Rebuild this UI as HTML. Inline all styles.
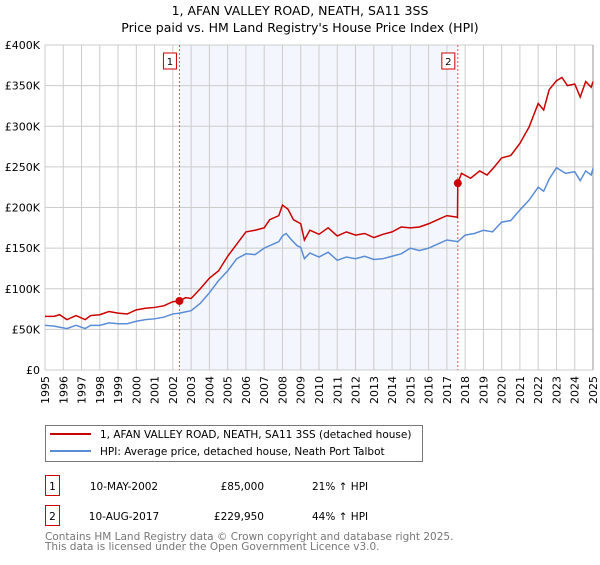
<!DOCTYPE html>
<html><head><meta charset="utf-8"><style>
body{margin:0;background:#fff;font-family:"Liberation Sans","DejaVu Sans",sans-serif}
svg text{font-family:"DejaVu Sans","Liberation Sans",sans-serif}
</style></head><body>
<svg width="600" height="560" viewBox="0 0 600 560">
<text x="300" y="15" text-anchor="middle" font-size="12.5">1, AFAN VALLEY ROAD, NEATH, SA11 3SS</text>
<text x="300" y="32" text-anchor="middle" font-size="12.5">Price paid vs. HM Land Registry's House Price Index (HPI)</text>
<g id="grid"></g><g id="series"></g><g id="axes"></g>
<rect x="45.5" y="425.5" width="377" height="36" fill="#fff" stroke="#777"/>
<line x1="50" y1="434" x2="91" y2="434" stroke="#cc0000" stroke-width="2"/>
<text x="100" y="438" font-size="10.5">1, AFAN VALLEY ROAD, NEATH, SA11 3SS (detached house)</text>
<line x1="50" y1="451" x2="91" y2="451" stroke="#5b8dd6" stroke-width="2"/>
<text x="100" y="455" font-size="10.5">HPI: Average price, detached house, Neath Port Talbot</text>
<g>
<rect x="45.5" y="475.5" width="14" height="20" fill="#fff" stroke="#cc0000"/><text x="52.5" y="490" font-size="10.5" text-anchor="middle">1</text>
<text x="124" y="490" font-size="10.5" text-anchor="middle">10-MAY-2002</text>
<text x="264" y="490" font-size="10.5" text-anchor="end">£85,000</text>
<text x="312" y="490" font-size="10.5">21% ↑ HPI</text></g>
<g>
<rect x="45.5" y="505.5" width="14" height="20" fill="#fff" stroke="#cc0000"/><text x="52.5" y="520" font-size="10.5" text-anchor="middle">2</text>
<text x="124" y="520" font-size="10.5" text-anchor="middle">10-AUG-2017</text>
<text x="264" y="520" font-size="10.5" text-anchor="end">£229,950</text>
<text x="312" y="520" font-size="10.5">44% ↑ HPI</text></g>
<text x="45" y="540" font-size="10.5" fill="#777">Contains HM Land Registry data © Crown copyright and database right 2025.</text>
<text x="45" y="550" font-size="10.5" fill="#777">This data is licensed under the Open Government Licence v3.0.</text>
</svg>
<script>
const hpiYears=[1995,1995.5,1996.2,1996.7,1997.2,1997.5,1998,1998.5,1999,1999.5,2000,2000.5,2001,2001.5,2002,2002.36,2003,2003.5,2004,2004.5,2005,2005.5,2006,2006.5,2007,2007.5,2007.8,2008,2008.2,2008.5,2008.8,2009,2009.2,2009.5,2010,2010.5,2011,2011.5,2012,2012.5,2013,2013.5,2014,2014.5,2015,2015.5,2016,2016.5,2017,2017.6,2018,2018.5,2019,2019.5,2020,2020.5,2021,2021.5,2022,2022.3,2022.6,2023,2023.5,2024,2024.3,2024.6,2024.9,2025];
const hpiValues=[55,54,51,55,51,55,55,58,57,57,60,62,63,65,69,70,73,82,95,110,122,137,143,142,150,155,158,165,168,160,153,151,137,144,139,145,135,139,137,140,136,137,140,143,150,147,150,155,160,158,166,168,172,170,182,184,197,209,225,220,235,249,242,244,233,245,240,248];
const priceYears=[1995,1995.5,1995.8,1996.2,1996.7,1997.2,1997.5,1998,1998.5,1999,1999.5,2000,2000.5,2001,2001.5,2002,2002.36,2002.7,2003,2003.5,2004,2004.5,2005,2005.5,2006,2006.5,2007,2007.3,2007.8,2008,2008.3,2008.6,2009,2009.2,2009.5,2010,2010.5,2011,2011.5,2012,2012.5,2013,2013.5,2014,2014.5,2015,2015.5,2016,2016.5,2017,2017.58,2017.6,2017.8,2018.3,2018.8,2019.2,2019.6,2020,2020.5,2021,2021.5,2022,2022.3,2022.6,2023,2023.3,2023.6,2024,2024.3,2024.6,2024.9,2025];
const priceValues=[66,66,68,62,67,62,67,68,72,70,69,74,76,77,79,84,85,89,88,100,113,122,140,155,170,172,175,185,190,203,198,185,180,160,172,167,175,165,170,166,168,163,167,170,176,175,176,180,185,190,188,229.95,242,236,245,240,250,261,264,279,299,328,320,345,356,360,350,352,336,355,348,355];
const saleYears=[2002.36,2017.6];
const saleValues=[85,229.95];
const saleLabels=["1","2"];
const yTicks=[0,50,100,150,200,250,300,350,400];
const yTickLabels=["£0","£50K","£100K","£150K","£200K","£250K","£300K","£350K","£400K"];
const xTicks=[1995,1996,1997,1998,1999,2000,2001,2002,2003,2004,2005,2006,2007,2008,2009,2010,2011,2012,2013,2014,2015,2016,2017,2018,2019,2020,2021,2022,2023,2024,2025];
const X0=45,X1=593,Y0=370,Y1=45;
const xs=v=>X0+(v-1995)/30*(X1-X0);
const ys=v=>Y0-v/400*(Y0-Y1);
const NS='http://www.w3.org/2000/svg';
function mk(tag,attrs,parent){const e=document.createElementNS(NS,tag);for(const k in attrs)e.setAttribute(k,attrs[k]);parent.appendChild(e);return e;}
const grid=document.getElementById('grid'),ser=document.getElementById('series'),ax=document.getElementById('axes');
const shade=mk('rect',{x:xs(saleYears[0]),y:Y1,width:xs(saleYears[1])-xs(saleYears[0]),height:Y0-Y1,fill:'#f3f6fd'},grid);


xTicks.forEach((t,i)=>{
 const l=mk('line',{x1:xs(t),x2:xs(t),y1:Y1,y2:Y0,stroke:'#ccc'},grid);
 
 
 const tx=mk('text',{x:0,y:0,'font-size':'11','text-anchor':'end',transform:`translate(${xs(t)+4},${Y0+6}) rotate(-90)`},ax);
 tx.textContent=t;
 
 
});
yTicks.forEach((t,i)=>{
 const l=mk('line',{x1:X0,x2:X1,y1:ys(t),y2:ys(t),stroke:'#ccc'},grid);
 
 
 const tx=mk('text',{x:X0-5,y:ys(t)+4,'font-size':'11','text-anchor':'end'},ax);
 tx.textContent=yTickLabels[i];
 
 
});
mk('line',{x1:X1,x2:X1,y1:Y1,y2:Y0,stroke:'#999'},grid);
saleYears.forEach((y,i)=>{
 const l=mk('line',{x1:xs(y),x2:xs(y),y1:Y1,y2:Y0,stroke:'#e05050','stroke-dasharray':'2,2'},grid);
 
 
 const r=mk('rect',{x:xs(y)-16,y:53,width:13,height:16,fill:'#fff',stroke:'#cc0000'},ax);
 
 
 const t=mk('text',{x:xs(y)-9.5,y:65,'font-size':'10','text-anchor':'middle'},ax);
 t.textContent=saleLabels[i];
});
const hp=mk('polyline',{points:hpiYears.map((y,i)=>xs(y)+','+ys(hpiValues[i])).join(' '),fill:'none',stroke:'#5b8dd6','stroke-width':'1.5'},ser);


const pp=mk('polyline',{points:priceYears.map((y,i)=>xs(y)+','+ys(priceValues[i])).join(' '),fill:'none',stroke:'#cc0000','stroke-width':'1.5'},ser);


saleYears.forEach((y,i)=>{
 const c=mk('circle',{cx:xs(y),cy:ys(saleValues[i]),r:4,fill:'#cc0000'},ser);
 
 
});
</script>
</body></html>
